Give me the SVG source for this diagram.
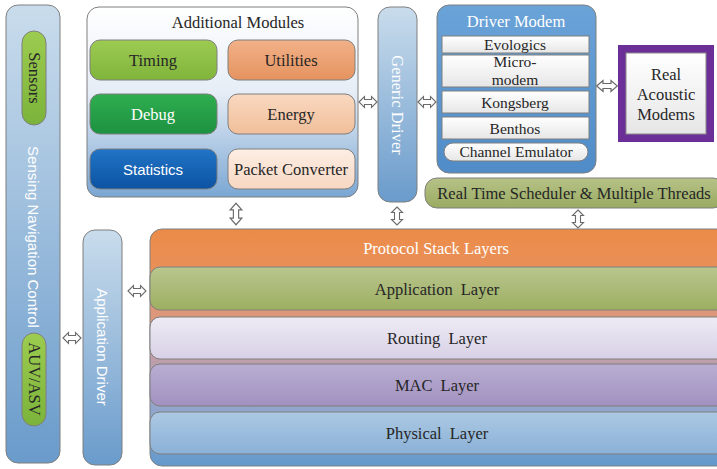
<svg xmlns="http://www.w3.org/2000/svg" xmlns:xlink="http://www.w3.org/1999/xlink" width="717" height="469" viewBox="0 0 717 469">
<defs>
<linearGradient id="gSide" x1="0" y1="0" x2="0" y2="1"><stop offset="0" stop-color="#c9dcec"/><stop offset="1" stop-color="#6a9bcb"/></linearGradient>
<linearGradient id="gAdd" x1="0" y1="0" x2="0" y2="1"><stop offset="0" stop-color="#ffffff"/><stop offset="0.45" stop-color="#e6edf6"/><stop offset="1" stop-color="#7aa6d3"/></linearGradient>
<linearGradient id="gModem" x1="0" y1="0" x2="0" y2="1"><stop offset="0" stop-color="#6aa3d8"/><stop offset="1" stop-color="#4f8cc8"/></linearGradient>
<linearGradient id="gStack" x1="0" y1="0" x2="0" y2="1"><stop offset="0" stop-color="#ec8b48"/><stop offset="0.2" stop-color="#e8915c"/><stop offset="0.45" stop-color="#d69a8c"/><stop offset="0.65" stop-color="#a9a2c4"/><stop offset="0.85" stop-color="#7ea7d2"/><stop offset="1" stop-color="#6498cb"/></linearGradient>
<linearGradient id="gApp" x1="0" y1="0" x2="0" y2="1"><stop offset="0" stop-color="#b9c68e"/><stop offset="1" stop-color="#9daf62"/></linearGradient>
<linearGradient id="gRout" x1="0" y1="0" x2="0" y2="1"><stop offset="0" stop-color="#eeebf5"/><stop offset="1" stop-color="#d8d1e6"/></linearGradient>
<linearGradient id="gMac" x1="0" y1="0" x2="0" y2="1"><stop offset="0" stop-color="#b9aed2"/><stop offset="1" stop-color="#a291c0"/></linearGradient>
<linearGradient id="gPhy" x1="0" y1="0" x2="0" y2="1"><stop offset="0" stop-color="#acc9e3"/><stop offset="1" stop-color="#8bb1d7"/></linearGradient>
<linearGradient id="gTiming" x1="0" y1="0" x2="0" y2="1"><stop offset="0" stop-color="#9dcb52"/><stop offset="1" stop-color="#80b43b"/></linearGradient>
<linearGradient id="gDebug" x1="0" y1="0" x2="0" y2="1"><stop offset="0" stop-color="#2fae4f"/><stop offset="1" stop-color="#1d9140"/></linearGradient>
<linearGradient id="gStat" x1="0" y1="0" x2="0" y2="1"><stop offset="0" stop-color="#2174c6"/><stop offset="1" stop-color="#0c53a2"/></linearGradient>
<linearGradient id="gUtil" x1="0" y1="0" x2="0" y2="1"><stop offset="0" stop-color="#f2b188"/><stop offset="1" stop-color="#e5935f"/></linearGradient>
<linearGradient id="gEnergy" x1="0" y1="0" x2="0" y2="1"><stop offset="0" stop-color="#f9d8c0"/><stop offset="1" stop-color="#f1bf9a"/></linearGradient>
<linearGradient id="gPkt" x1="0" y1="0" x2="0" y2="1"><stop offset="0" stop-color="#fdeee4"/><stop offset="1" stop-color="#f7d7c2"/></linearGradient>
<linearGradient id="gRts" x1="0" y1="0" x2="0" y2="1"><stop offset="0" stop-color="#b6c287"/><stop offset="1" stop-color="#9aab62"/></linearGradient>
<linearGradient id="gPill" x1="0" y1="0" x2="0" y2="1"><stop offset="0" stop-color="#9ccc50"/><stop offset="1" stop-color="#7bb33a"/></linearGradient>
<linearGradient id="gRow" x1="0" y1="0" x2="0" y2="1"><stop offset="0" stop-color="#ffffff"/><stop offset="1" stop-color="#e6e6e6"/></linearGradient>
<path id="dbl" d="M-9,0 L-3.5,-5.5 L-3.5,-2.5 L3.5,-2.5 L3.5,-5.5 L9,0 L3.5,5.5 L3.5,2.5 L-3.5,2.5 L-3.5,5.5 Z"/>
</defs>
<style>
.box{stroke:#7f7f7f;stroke-width:1}
.serif{font-family:"Liberation Serif","Times New Roman",serif;font-size:16.5px;text-anchor:middle}
.sans{font-family:"Liberation Sans",Arial,sans-serif;font-size:15px;text-anchor:middle}
.dark{fill:#262626}
.white{fill:#ffffff}
.serif.row{font-size:15.5px}
.arrow{fill:#ffffff;stroke:#6b6b6b;stroke-width:1.1}
</style>
<rect width="717" height="469" fill="#ffffff"/>

<g id="sensing-navigation-control">
<rect class="box" x="6" y="5" width="54" height="458" rx="12" fill="url(#gSide)"/>
<text class="sans white" transform="translate(33,237) rotate(90)" y="5">Sensing Navigation Control</text>
</g>
<g id="sensors">
<rect class="box" x="22" y="31" width="24" height="94" rx="12" fill="url(#gPill)"/>
<text class="serif dark" transform="translate(34,78) rotate(90)" y="5">Sensors</text>
</g>
<g id="auv-asv">
<rect class="box" x="22" y="333" width="24" height="93" rx="12" fill="url(#gPill)"/>
<text class="serif dark" transform="translate(34,379) rotate(90)" y="5">AUV/ASV</text>
</g>

<g id="application-driver">
<rect class="box" x="83" y="230" width="39" height="235" rx="12" fill="url(#gSide)"/>
<text class="sans white" transform="translate(102,347) rotate(90)" y="5">Application Driver</text>
</g>

<g id="additional-modules">
<rect class="box" x="87" y="7" width="271" height="190" rx="12" fill="url(#gAdd)"/>
<text class="serif dark" x="238" y="28">Additional Modules</text>
</g>
<g id="timing">
<rect class="box" x="90" y="40" width="127" height="40" rx="10" fill="url(#gTiming)"/>
<text class="serif dark" x="153" y="66">Timing</text>
</g>
<g id="utilities">
<rect class="box" x="228" y="40" width="127" height="40" rx="10" fill="url(#gUtil)"/>
<text class="serif dark" x="291" y="66">Utilities</text>
</g>
<g id="debug">
<rect class="box" x="90" y="94" width="127" height="40" rx="10" fill="url(#gDebug)"/>
<text class="serif white" x="153" y="120">Debug</text>
</g>
<g id="energy">
<rect class="box" x="228" y="94" width="127" height="40" rx="10" fill="url(#gEnergy)"/>
<text class="serif dark" x="291" y="120">Energy</text>
</g>
<g id="statistics">
<rect class="box" x="90" y="149" width="127" height="40" rx="10" fill="url(#gStat)"/>
<text class="sans white" x="153" y="175">Statistics</text>
</g>
<g id="packet-converter">
<rect class="box" x="228" y="149" width="127" height="40" rx="10" fill="url(#gPkt)"/>
<text class="serif dark" x="291" y="175">Packet Converter</text>
</g>

<g id="generic-driver">
<rect class="box" x="378" y="7" width="39" height="195" rx="12" fill="url(#gSide)"/>
<text class="serif white" transform="translate(397,105) rotate(90)" y="5">Generic Driver</text>
</g>

<g id="driver-modem">
<rect class="box" x="437" y="5" width="159" height="168" rx="12" fill="url(#gModem)"/>
<text class="serif white" x="516" y="27">Driver Modem</text>
</g>
<g id="evologics">
<rect class="box" x="442" y="36" width="147" height="17" fill="url(#gRow)"/>
<text class="serif dark row" x="515" y="49.5">Evologics</text>
</g>
<g id="micro-modem">
<rect class="box" x="442" y="55" width="147" height="32" fill="url(#gRow)"/>
<text class="serif dark row" x="515" y="67">Micro-</text>
<text class="serif dark row" x="515" y="84.5">modem</text>
</g>
<g id="kongsberg">
<rect class="box" x="442" y="91" width="147" height="22" fill="url(#gRow)"/>
<text class="serif dark row" x="515" y="107.5">Kongsberg</text>
</g>
<g id="benthos">
<rect class="box" x="442" y="117" width="147" height="22" fill="url(#gRow)"/>
<text class="serif dark row" x="515" y="133.5">Benthos</text>
</g>
<g id="channel-emulator">
<rect class="box" x="444" y="143" width="144" height="18" rx="9" fill="url(#gRow)"/>
<text class="serif dark row" x="516" y="157">Channel Emulator</text>
</g>

<g id="real-acoustic-modems">
<rect x="618" y="45" width="96" height="97" fill="#6c2e97"/>
<rect x="626" y="53" width="80" height="81" fill="url(#gRow)" stroke="#8a8a8a" stroke-width="1"/>
<text class="serif dark" x="666" y="80">Real</text>
<text class="serif dark" x="666" y="100">Acoustic</text>
<text class="serif dark" x="666" y="120">Modems</text>
</g>

<g id="real-time-scheduler">
<rect class="box" x="425" y="178" width="300" height="30" rx="12" fill="url(#gRts)"/>
<text class="serif dark" x="574" y="199">Real Time Scheduler &amp; Multiple Threads</text>
</g>

<g id="protocol-stack-layers">
<rect class="box" x="150" y="229" width="580" height="237" rx="12" fill="url(#gStack)"/>
<text class="serif white" x="436" y="254">Protocol Stack Layers</text>
</g>
<g id="application-layer">
<rect class="box" x="150" y="267" width="580" height="43" rx="10" fill="url(#gApp)"/>
<text class="serif dark" x="437" y="295" word-spacing="4">Application Layer</text>
</g>
<g id="routing-layer">
<rect class="box" x="150" y="317" width="580" height="42" rx="10" fill="url(#gRout)"/>
<text class="serif dark" x="437" y="344" word-spacing="4">Routing Layer</text>
</g>
<g id="mac-layer">
<rect class="box" x="150" y="364" width="580" height="42" rx="10" fill="url(#gMac)"/>
<text class="serif dark" x="437" y="391" word-spacing="4">MAC Layer</text>
</g>
<g id="physical-layer">
<rect class="box" x="150" y="412" width="580" height="42" rx="10" fill="url(#gPhy)"/>
<text class="serif dark" x="437" y="439" word-spacing="4">Physical Layer</text>
</g>

<g id="connectors">
<use xlink:href="#dbl" class="arrow" transform="translate(72,338)"/>
<use xlink:href="#dbl" class="arrow" transform="translate(137,291)"/>
<use xlink:href="#dbl" class="arrow" transform="translate(368,102)"/>
<use xlink:href="#dbl" class="arrow" transform="translate(427,102)"/>
<use xlink:href="#dbl" class="arrow" transform="translate(607,86) scale(1.15,1)"/>
<use xlink:href="#dbl" class="arrow" transform="translate(236,214) rotate(90) scale(1.2,1.05)"/>
<use xlink:href="#dbl" class="arrow" transform="translate(397,216) rotate(90)"/>
<use xlink:href="#dbl" class="arrow" transform="translate(578,219) rotate(90)"/>
</g>
</svg>
